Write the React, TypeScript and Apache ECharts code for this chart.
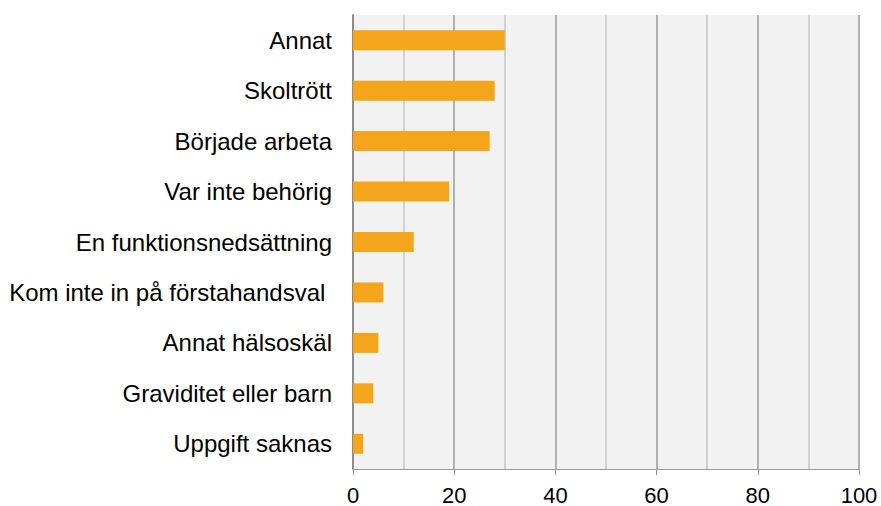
import React, { useEffect, useRef } from "react";
import * as echarts from "echarts";

const categories = [
  "Annat",
  "Skoltrött",
  "Började arbeta",
  "Var inte behörig",
  "En funktionsnedsättning",
  "Kom inte in på förstahandsval ",
  "Annat hälsoskäl",
  "Graviditet eller barn",
  "Uppgift saknas",
];
const values = [30, 28, 27, 19, 12, 6, 5, 4, 2];

export default function App() {
  const ref = useRef<HTMLDivElement>(null);
  useEffect(() => {
    if (!ref.current) return;
    const chart = echarts.init(ref.current, undefined, { renderer: "svg" });
    chart.setOption({
      animation: false,
      grid: {
        left: 353,
        right: 22,
        top: 15,
        bottom: 37,
        show: true,
        backgroundColor: "#f2f2f2",
        borderWidth: 0,
      },
      xAxis: {
        type: "value",
        min: 0,
        max: 100,
        interval: 20,
        axisLine: { show: true, lineStyle: { color: "#999999", width: 1 } },
        axisTick: { show: true, length: 6, lineStyle: { color: "#999999" } },
        axisLabel: {
          color: "#000000",
          fontSize: 22,
          fontFamily: "Liberation Sans, Arial, sans-serif",
          margin: 15,
        },
        splitLine: { show: true, lineStyle: { color: "#9a9a9a", width: 1.5 } },
        minorTick: { show: false, splitNumber: 2 },
        minorSplitLine: { show: true, lineStyle: { color: "#c4c4c4", width: 1.5 } },
      },
      yAxis: {
        type: "category",
        data: categories,
        inverse: true,
        axisLine: { show: true, lineStyle: { color: "#8c8c8c", width: 2 } },
        axisTick: { show: false },
        axisLabel: {
          color: "#000000",
          fontSize: 24,
          fontFamily: "Liberation Sans, Arial, sans-serif",
          margin: 21,
        },
        splitLine: { show: false },
      },
      series: [
        {
          type: "bar",
          data: values,
          barWidth: 20,
          itemStyle: { color: "#f5a51b" },
        },
      ],
    });
    return () => chart.dispose();
  }, []);
  return <div ref={ref} style={{ width: 881, height: 506, position: "absolute", left: 0, top: 0 }} />;
}
